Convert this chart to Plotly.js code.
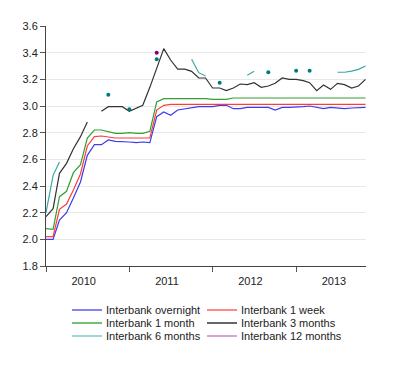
<!DOCTYPE html>
<html>
<head>
<meta charset="utf-8">
<script src="https://cdn.plot.ly/plotly-3.0.1.min.js"></script>
<style>html,body{margin:0;padding:0;background:#fff;}#chart{width:400px;height:368px;}</style>
</head>
<body>
<div id="chart"></div>
<script>
// Monthly observations, Jan 2010 .. Nov 2013
const startYear = 2010;
const nMonths = 47;
const seriesNames = ["Interbank overnight", "Interbank 1 week", "Interbank 1 month",
                     "Interbank 3 months", "Interbank 6 months", "Interbank 12 months"];

const overnight = [2.00,2.00,2.145,2.20,2.31,2.43,2.63,2.71,2.71,2.745,2.735,2.735,
  2.73,2.725,2.73,2.725,2.92,2.955,2.93,2.97,2.98,2.985,2.995,2.995,
  2.995,3.005,3.005,2.98,2.98,2.99,2.99,2.99,2.99,2.97,2.99,2.99,
  2.99,2.995,3.0,2.99,2.98,2.99,2.985,2.98,2.985,2.99,2.99];

const week1 = [2.02,2.02,2.225,2.265,2.37,2.49,2.70,2.77,2.775,2.765,2.76,2.76,
  2.76,2.76,2.76,2.76,2.97,3.005,3.012,3.012,3.012,3.012,3.012,3.012,
  3.012,3.012,3.012,3.012,3.012,3.012,3.012,3.012,3.012,3.012,3.012,3.012,
  3.012,3.012,3.012,3.012,3.012,3.012,3.012,3.012,3.012,3.012,3.012];

const month1 = [2.08,2.075,2.32,2.36,2.50,2.56,2.76,2.82,2.82,2.81,2.795,2.795,
  2.80,2.795,2.795,2.81,3.03,3.055,3.055,3.055,3.06,3.06,3.055,3.055,
  3.05,3.05,3.05,3.06,3.06,3.06,3.06,3.06,3.065,3.065,3.06,3.06,
  3.065,3.06,3.065,3.06,3.065,3.06,3.06,3.065,3.06,3.06,3.06];

const month3 = [2.17,2.23,2.495,2.57,2.68,2.77,2.88,null,2.96,2.995,2.995,2.995,
  2.96,2.985,3.005,3.14,3.28,3.43,3.345,3.277,3.277,3.26,3.21,3.21,
  3.135,3.135,3.115,3.135,3.165,3.16,3.175,3.14,3.15,3.17,3.21,3.20,
  3.20,3.19,3.175,3.115,3.157,3.125,3.17,3.16,3.135,3.15,3.20];

const month6 = [2.20,2.48,2.58,null,null,null,null,null,null,3.085,null,null,
  2.975,null,null,null,3.35,null,null,null,null,3.35,3.25,3.225,
  null,3.175,null,null,null,3.23,3.26,null,3.253,null,null,null,
  3.265,null,3.265,null,null,null,3.253,3.253,3.262,3.275,3.30];

const month12 = [null,null,null,null,null,null,null,null,null,null,null,null,
  null,null,null,null,3.40,null,null,null,null,null,null,null,
  null,null,null,null,null,null,null,null,null,null,null,null,
  null,null,null,null,null,null,null,null,null,null,null];

const yTicks = [1.8,2.0,2.2,2.4,2.6,2.8,3.0,3.2,3.4,3.6];

// ---------------------------------------------------------------
const dates = [];
for (let i = 0; i < nMonths; i++) {
  const y = startYear + Math.floor(i / 12), m = (i % 12) + 1;
  dates.push(y + "-" + (m < 10 ? "0" + m : m) + "-01");
}
function isolated(arr) {
  return arr.map((v, i) => (v !== null && (i === 0 || arr[i-1] === null) &&
    (i === arr.length - 1 || arr[i+1] === null)) ? v : null);
}

const lineColors = ["#3c3cf0", "#ff3c3c", "#33a033", "#333333", "#3aa6a6", "#8a2a8a"];
const legendColors = ["#5a5af0", "#ff6060", "#40b040", "#333333", "#80c8c8", "#c888cc"];
const dotColors = [null, null, null, "#333333", "#007a7a", "#800080"];
const allSeries = [overnight, week1, month1, month3, month6, month12];

const traces = [];
allSeries.forEach((s, k) => {
  traces.push({x: dates, y: s, type: "scatter", mode: "lines", name: seriesNames[k],
    line: {color: lineColors[k], width: 1.2}, connectgaps: false, showlegend: false,
    hoverinfo: "x+y"});
});
allSeries.forEach((s, k) => {
  const iso = isolated(s);
  if (iso.some(v => v !== null)) {
    traces.push({x: dates, y: iso, type: "scatter", mode: "markers", name: seriesNames[k],
      marker: {color: dotColors[k] || lineColors[k], size: 4}, showlegend: false});
  }
});

// plot area geometry (px)
const L = 46, R = 34, T = 26, B = 102, W = 400, H = 368;
const pw = W - L - R, ph = H - T - B;
const px = v => (v - L) / pw;
const py = v => (H - B - v) / ph;

// custom legend (2 columns x 3 rows)
const shapes = [], annotations = [];
const colX = [72, 207], rowY = [310, 323, 336];
seriesNames.forEach((nm, k) => {
  const c = k % 2, r = Math.floor(k / 2);
  shapes.push({type: "line", xref: "paper", yref: "paper",
    x0: px(colX[c]), x1: px(colX[c] + 30), y0: py(rowY[r]), y1: py(rowY[r]),
    line: {color: legendColors[k], width: 1.5}});
  annotations.push({xref: "paper", yref: "paper", x: px(colX[c] + 32), y: py(rowY[r]),
    xanchor: "left", yanchor: "middle", showarrow: false, text: nm,
    font: {size: 11, color: "#222"}});
});

const layout = {
  width: W, height: H,
  margin: {l: L, r: R, t: T, b: B},
  paper_bgcolor: "#fff", plot_bgcolor: "#fff",
  font: {family: "Arial, 'Liberation Sans', sans-serif", size: 11, color: "#222"},
  showlegend: false,
  xaxis: {type: "date", range: ["2010-01-01", "2013-11-03"],
    tickmode: "linear", tick0: "2010-01-01", dtick: "M12", tickformat: "%Y",
    ticklabelmode: "period", ticklabelshift: -4,
    ticks: "outside", ticklen: 5, tickcolor: "#555", showline: true, linecolor: "#444",
    linewidth: 1, showgrid: false, zeroline: false},
  yaxis: {range: [1.8, 3.6], tickmode: "array", tickvals: yTicks,
    ticktext: yTicks.map(v => v.toFixed(1)),
    ticks: "outside", ticklen: 5, tickcolor: "#555", showline: true, linecolor: "#444",
    linewidth: 1, showgrid: true, gridcolor: "#e8e8e8", gridwidth: 1, zeroline: false},
  shapes: shapes, annotations: annotations
};

Plotly.newPlot("chart", traces, layout, {displayModeBar: false, staticPlot: true});
</script>
</body>
</html>
